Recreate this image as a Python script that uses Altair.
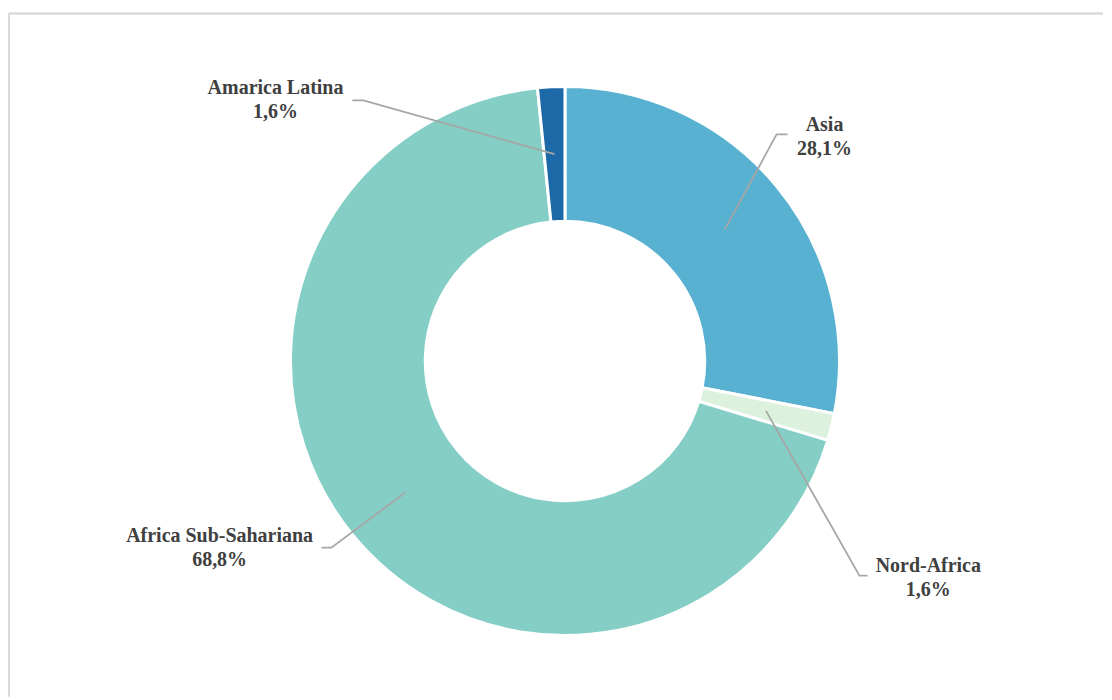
import math
import altair as alt
import pandas as pd

# ---- data ----
categories = ["Asia", "Nord-Africa", "Africa Sub-Sahariana", "Amarica Latina"]
values = [28.1, 1.6, 68.8, 1.6]
value_labels = ["28,1%", "1,6%", "68,8%", "1,6%"]
colors = ["#58b1d0", "#ddf2de", "#84cec5", "#1d69a8"]

# ---- layout (view pixels) ----
W, H = 1096, 684
CX, CY = 557, 348
R_OUT, R_IN = 275, 140
R_MID = (R_OUT + R_IN) / 2
# centre of the first text line of each label
label_center = {
    "Asia": (817, 112),
    "Nord-Africa": (921, 553),
    "Africa Sub-Sahariana": (211, 523),
    "Amarica Latina": (267, 75),
}
leader_elbow = {
    "Asia": [(769, 121), (780, 121)],
    "Nord-Africa": [(852, 563), (860, 563)],
    "Africa Sub-Sahariana": [(323, 535), (313, 535)],
    "Amarica Latina": [(355, 87), (344, 87)],
}

df = pd.DataFrame({
    "category": categories,
    "value": values,
    "order": list(range(len(categories))),
    "label": [f"{c}\n{v}" for c, v in zip(categories, value_labels)],
})

# leader lines: start at the middle of each slice
total = sum(values)
rows = []
cum = 0.0
for cat, v in zip(categories, values):
    a = (cum + v / 2) / total * 2 * math.pi
    cum += v
    sx = CX + R_MID * math.sin(a)
    sy = CY - R_MID * math.cos(a)
    pts = [(sx, sy)] + leader_elbow[cat]
    for i, (px, py) in enumerate(pts):
        rows.append({"category": cat, "seq": i, "px": px, "py": py})
lines_df = pd.DataFrame(rows)

text_df = df.copy()
text_df["tx"] = [label_center[c][0] for c in categories]
text_df["ty"] = [label_center[c][1] for c in categories]

arc = alt.Chart(df).mark_arc(
    radius=R_OUT, radius2=R_IN, stroke="white", strokeWidth=3
).encode(
    theta=alt.Theta("value:Q", stack=True),
    order=alt.Order("order:Q"),
    color=alt.Color("category:N", scale=alt.Scale(domain=categories, range=colors), legend=None),
    x=alt.value(CX),
    y=alt.value(CY),
)

leaders = alt.Chart(lines_df).mark_line(color="#a6a6a6", strokeWidth=1.8).encode(
    x=alt.X("px:Q", scale=None),
    y=alt.Y("py:Q", scale=None),
    detail="category:N",
    order="seq:Q",
)

labels = alt.Chart(text_df).mark_text(
    font="'Liberation Serif', 'Times New Roman', serif", fontWeight="bold",
    fontSize=20, color="#404040",
    align="center", baseline="middle", lineBreak="\n", lineHeight=24,
).encode(
    x=alt.X("tx:Q", scale=None),
    y=alt.Y("ty:Q", scale=None),
    text="label:N",
)

frame_top = alt.Chart(df).mark_rule(color="#d9d9d9", strokeWidth=1.5).encode(
    x=alt.value(0), x2=alt.value(W), y=alt.value(0)
)
frame_left = alt.Chart(df).mark_rule(color="#d9d9d9", strokeWidth=2).encode(
    x=alt.value(0), y=alt.value(0), y2=alt.value(H)
)

chart = alt.layer(frame_top, frame_left, arc, leaders, labels).properties(
    width=W, height=H,
    padding={"left": 0, "top": 4, "right": 0, "bottom": 0},
).configure_view(stroke=None)

chart.save("out.html", embed_options={"renderer": "svg", "actions": False})
